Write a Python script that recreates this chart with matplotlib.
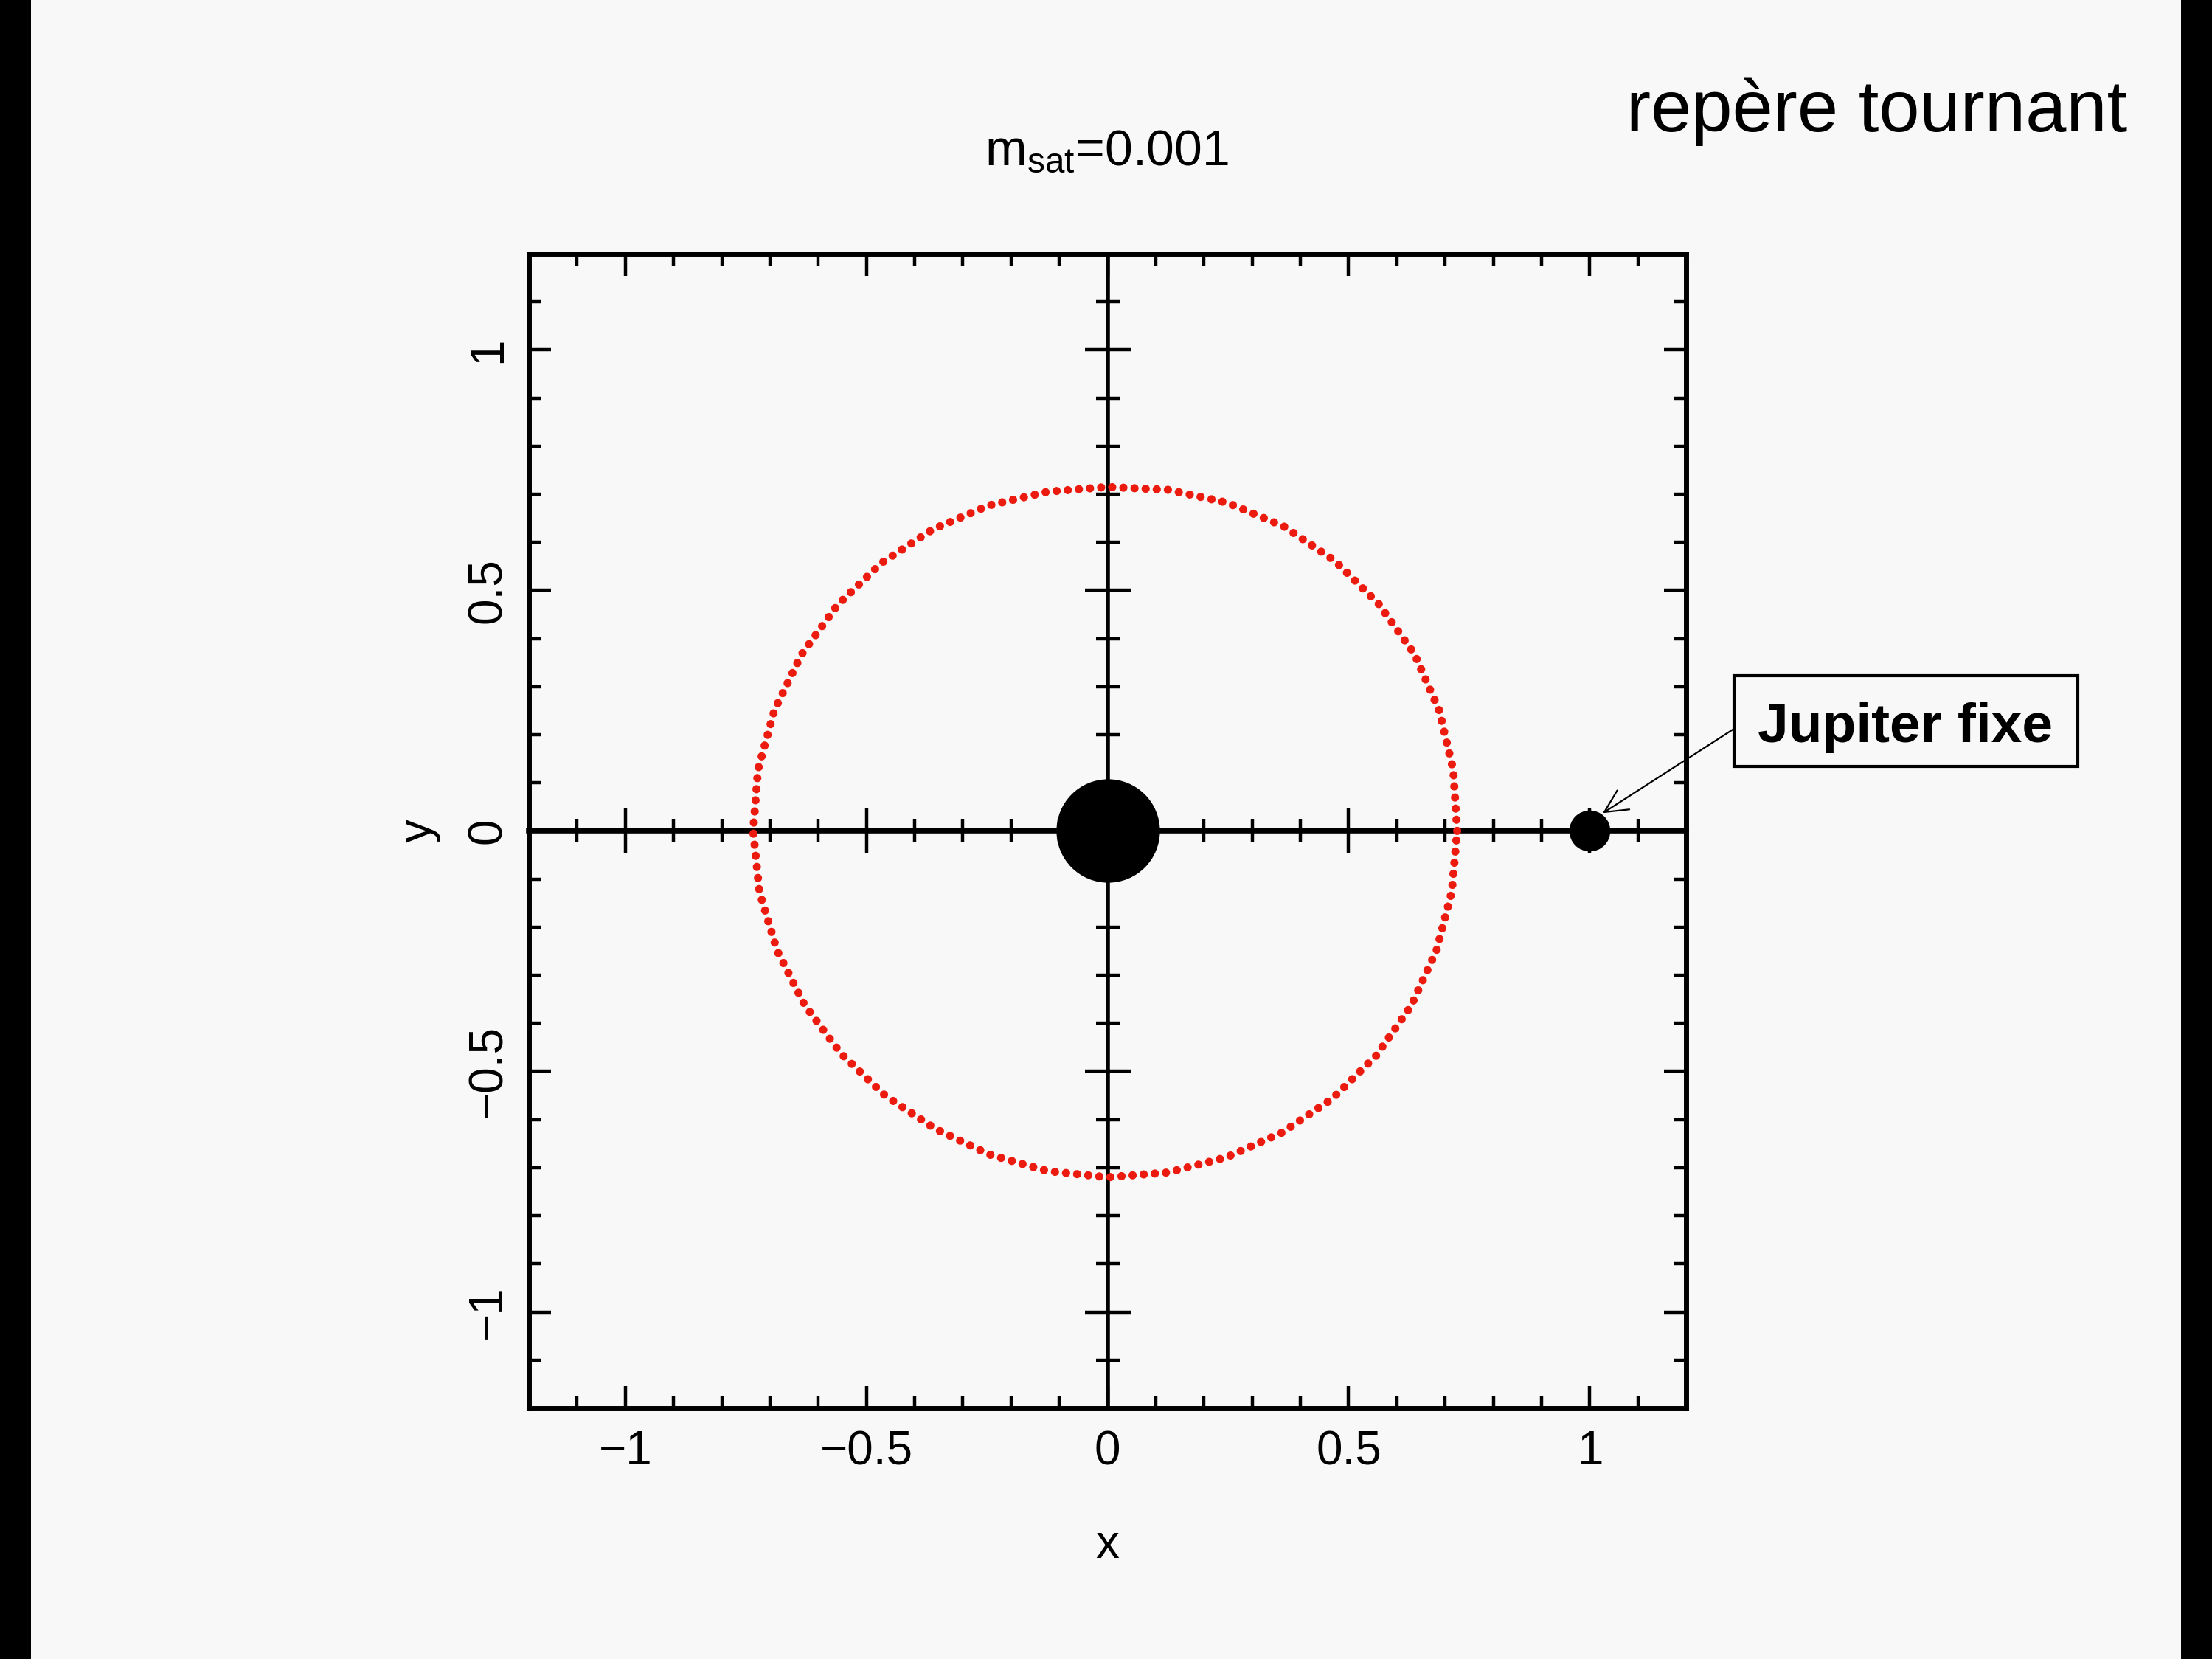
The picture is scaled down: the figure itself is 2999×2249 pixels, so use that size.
import numpy as np
import matplotlib
matplotlib.use('Agg')
import matplotlib.pyplot as plt
from matplotlib.patches import Rectangle
from matplotlib.ticker import MultipleLocator

plt.rcParams['font.family'] = ['Liberation Sans', 'DejaVu Sans']
plt.rcParams['mathtext.fontset'] = 'custom'
plt.rcParams['mathtext.rm'] = 'Liberation Sans'
plt.rcParams['mathtext.sf'] = 'Liberation Sans'

# anneau de particules : angle (degres) et rayon
ring_angle = [0, 10, 20, 30, 40, 50, 60, 70, 80, 90, 100, 110,
              120, 130, 140, 150, 160, 170, 180, 190, 200, 210, 220, 230,
              240, 250, 260, 270, 280, 290, 300, 310, 320, 330, 340, 350]
ring_radius = [0.725, 0.728, 0.732, 0.735, 0.734, 0.733, 0.731, 0.726, 0.720, 0.715, 0.716, 0.720,
               0.724, 0.728, 0.731, 0.733, 0.735, 0.736, 0.735, 0.733, 0.729, 0.725, 0.721, 0.718,
               0.715, 0.716, 0.718, 0.720, 0.721, 0.722, 0.724, 0.726, 0.727, 0.727, 0.726, 0.725]

# etoile centrale et Jupiter (fixe dans le repere tournant)
star_x = [0.0]
star_y = [0.0]
jupiter_x = [1.0]
jupiter_y = [0.0]

ticks = [-1, -0.5, 0, 0.5, 1]
tick_labels = ['\u22121', '\u22120.5', '0', '0.5', '1']

bg = '#f8f8f8'
fig = plt.figure(figsize=(29.99, 22.49), dpi=100, facecolor=bg)

# bandes noires sur les cotes
fig.add_artist(Rectangle((0, 0), 0.014, 1, transform=fig.transFigure, color='black', lw=0))
fig.add_artist(Rectangle((0.986, 0), 0.014, 1, transform=fig.transFigure, color='black', lw=0))

rect = [0.2391, 0.1512, 0.5232, 0.6959]
ax = fig.add_axes(rect)
ax.set_facecolor(bg)
ax.set_xlim(-1.2, 1.2)
ax.set_ylim(-1.2, 1.2)
ax.set_xticks(ticks)
ax.set_xticklabels(tick_labels)
ax.set_yticks(ticks)
ax.set_yticklabels(tick_labels)
ax.xaxis.set_minor_locator(MultipleLocator(0.1))
ax.yaxis.set_minor_locator(MultipleLocator(0.1))
ax.tick_params(which='both', direction='in', top=True, right=True, width=3.2, color='black')
ax.tick_params(which='major', length=21.5, labelsize=46)
ax.tick_params(which='minor', length=11.5)
ax.tick_params(axis='x', pad=21)
ax.tick_params(axis='y', pad=18)
for s in ax.spines.values():
    s.set_linewidth(5)
plt.setp(ax.get_yticklabels(), rotation=90, va='center')

ax.set_xlabel('x', fontsize=46)
ax.xaxis.set_label_coords(0.5, -0.1297)
ax.xaxis.label.set_va('baseline')
ax.set_ylabel('y', fontsize=46)
ax.yaxis.set_label_coords(-0.095, 0.5)
ax.yaxis.label.set_va('center')

# axes passant par l'origine, avec graduations croisees
ax2 = fig.add_axes(rect)
ax2.patch.set_visible(False)
ax2.set_xlim(-1.2, 1.2)
ax2.set_ylim(-1.2, 1.2)
ax2.spines['top'].set_visible(False)
ax2.spines['right'].set_visible(False)
ax2.spines['left'].set_position(('data', 0))
ax2.spines['bottom'].set_position(('data', 0))
ax2.spines['left'].set_linewidth(4)
ax2.spines['bottom'].set_linewidth(5.5)
ax2.set_xticks(ticks)
ax2.set_yticks(ticks)
ax2.xaxis.set_minor_locator(MultipleLocator(0.1))
ax2.yaxis.set_minor_locator(MultipleLocator(0.1))
ax2.tick_params(which='both', direction='inout', labelbottom=False, labelleft=False,
                width=3.2, color='black')
ax2.tick_params(which='major', length=44)
ax2.tick_params(which='minor', length=23)

th = np.deg2rad(np.array(ring_angle + ring_angle[:1], dtype=float))
rr = np.array(ring_radius + ring_radius[:1])
ax2.plot(rr * np.cos(th), rr * np.sin(th), color='#ec1b10', lw=8,
         linestyle=(0, (0.01, 1.35)), dash_capstyle='round', zorder=4)

ax2.plot(star_x, star_y, 'o', color='black', ms=101, mew=0, zorder=5)
ax2.plot(jupiter_x, jupiter_y, 'o', color='black', ms=40, mew=0, zorder=5)

# titre et textes
fig.text(0.5005, 0.9004, r'$\mathsf{m_{sat}}$=0.001', ha='center', va='baseline', fontsize=49)
fig.text(0.9617, 0.9209, 'repère tournant', ha='right', va='baseline', fontsize=71.5)

fig.add_artist(Rectangle((0.7839, 0.538), 0.1554, 0.0547, transform=fig.transFigure,
                         fill=False, ec='black', lw=3))
fig.text(0.8613, 0.5527, 'Jupiter fixe', ha='center', va='baseline', fontsize=54, weight='bold')
ax2.annotate('', xy=(1.027, 0.037), xycoords='data',
             xytext=(0.7839, 0.5607), textcoords='figure fraction',
             arrowprops=dict(arrowstyle='->', lw=1.6, color='black',
                             shrinkA=0, shrinkB=0, mutation_scale=55))

fig.savefig('out.png', dpi=100, facecolor=bg)
